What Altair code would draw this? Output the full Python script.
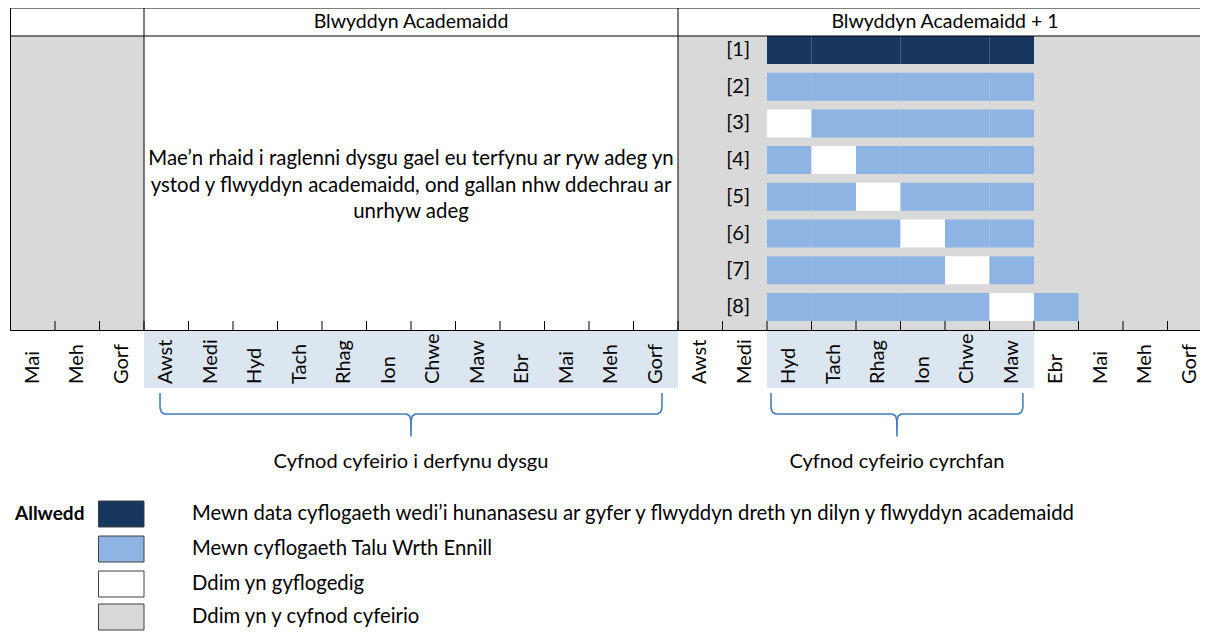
import altair as alt
import pandas as pd

# ---------------- data ----------------
months = ["Mai", "Meh", "Gorf", "Awst", "Medi", "Hyd", "Tach", "Rhag", "Ion", "Chwe", "Maw", "Ebr",
          "Mai", "Meh", "Gorf", "Awst", "Medi", "Hyd", "Tach", "Rhag", "Ion", "Chwe", "Maw", "Ebr",
          "Mai", "Meh", "Gorf"]
row_labels = ["[1]", "[2]", "[3]", "[4]", "[5]", "[6]", "[7]", "[8]"]
row_start_month = 17  # "Hyd" of academic year + 1
row_status = ["DDDDDD", "LLLLLL", "WLLLLL", "LWLLLL", "LLWLLL", "LLLWLL", "LLLLWL", "LLLLLWL"]
status_colors = {"D": "#17375E", "L": "#8EB4E3", "W": "#FFFFFF", "G": "#D9D9D9"}
legend_keys = ["D", "L", "W", "G"]
legend_labels = [
    "Mewn data cyflogaeth wedi’i hunanasesu ar gyfer y flwyddyn dreth yn dilyn y flwyddyn academaidd",
    "Mewn cyflogaeth Talu Wrth Ennill",
    "Ddim yn gyflogedig",
    "Ddim yn y cyfnod cyfeirio",
]
key_title = "Allwedd"
year_titles = ["Blwyddyn Academaidd", "Blwyddyn Academaidd + 1"]
year_spans = [(3, 15), (15, 27)]
grey_spans = [(0, 3), (15, 27)]
note_lines = ["Mae’n rhaid i raglenni dysgu gael eu terfynu ar ryw adeg yn",
              "ystod y flwyddyn academaidd, ond gallan nhw ddechrau ar",
              "unrhyw adeg"]
period_titles = ["Cyfnod cyfeirio i derfynu dysgu", "Cyfnod cyfeirio cyrchfan"]
period_spans = [(3, 15), (17, 23)]
brace_spans = [(3.36, 14.64), (17.09, 22.75)]

# ---------------- layout (page pixels) ----------------
PAGE = 8
X0, MW = 10.5, 44.5
W, H = 1192, 623
HEADER_TOP, HEADER_BOTTOM = 8, 36
AXIS_Y, TICK_TOP = 330.5, 321
BAND_BOTTOM, LABEL_Y = 388, 384
ROW_C0, ROW_PITCH, BAR_H = 50, 36.7, 28
BRACE_TOP, BRACE_MID, BRACE_TIP = 393, 414, 436
PERIOD_Y = 462
LEGEND_Y = [514, 549, 584, 617]
LEGEND_BOX_H = 26
FONT = "Lato"
FS = 20

xs = alt.Scale(domain=[(PAGE - X0) / MW, (PAGE + W - X0) / MW], nice=False, zero=False)
ys = alt.Scale(domain=[PAGE, PAGE + H], reverse=True, nice=False, zero=False)


def ex(f):
    return alt.X(f, type="quantitative", scale=xs, axis=None)


def ey(f):
    return alt.Y(f, type="quantitative", scale=ys, axis=None)


def rect_layer(df, **mk):
    return alt.Chart(df).mark_rect(**mk).encode(
        x=ex("x"), x2="x2", y=ey("y"), y2="y2",
        color=alt.Color("fill:N", scale=None))


# background regions
bg = []
for a, b in grey_spans:
    bg.append(dict(x=a, x2=b, y=HEADER_BOTTOM, y2=AXIS_Y, fill=status_colors["G"]))
for a, b in period_spans:
    bg.append(dict(x=a, x2=b, y=AXIS_Y, y2=BAND_BOTTOM, fill="#DCE6F1"))
bg_layer = rect_layer(pd.DataFrame(bg), clip=True)

# bars
cells = []
for i, st in enumerate(row_status):
    c = ROW_C0 + i * ROW_PITCH
    for j, s in enumerate(st):
        m = row_start_month + j
        cells.append(dict(x=m, x2=m + 1, y=c - BAR_H / 2, y2=c + BAR_H / 2, fill=status_colors[s]))
bar_layer = rect_layer(pd.DataFrame(cells))

# grid lines
lines = [
    dict(x=0, x2=27, y=HEADER_TOP, y2=HEADER_TOP),
    dict(x=0, x2=27, y=HEADER_BOTTOM, y2=HEADER_BOTTOM),
    dict(x=0, x2=27, y=AXIS_Y, y2=AXIS_Y),
]
for v in [0, 3, 15]:
    lines.append(dict(x=v, x2=v, y=HEADER_TOP, y2=AXIS_Y))
for k in range(len(months) + 1):
    lines.append(dict(x=k, x2=k, y=TICK_TOP, y2=AXIS_Y))
line_layer = alt.Chart(pd.DataFrame(lines)).mark_rule(color="#000000", strokeWidth=1, clip=True).encode(
    x=ex("x"), x2="x2", y=ey("y"), y2="y2")

# month labels
mdf = pd.DataFrame(dict(x=[k + 0.5 for k in range(len(months))], y=LABEL_Y, t=months))
month_layer = alt.Chart(mdf).mark_text(angle=270, align="left", baseline="middle",
                                       font=FONT, fontSize=FS, color="#000000").encode(
    x=ex("x"), y=ey("y"), text="t:N")

# row labels
rdf = pd.DataFrame(dict(x=row_start_month - 0.38,
                        y=[ROW_C0 + i * ROW_PITCH for i in range(len(row_labels))], t=row_labels))
row_layer = alt.Chart(rdf).mark_text(align="right", baseline="middle", font=FONT, fontSize=FS,
                                     color="#000000").encode(x=ex("x"), y=ey("y"), text="t:N")

# centred texts: year titles, note, period titles
ct = []
for t, (a, b) in zip(year_titles, year_spans):
    ct.append(dict(x=(a + b) / 2, y=22, t=t, s=FS - 0.5))
for i, t in enumerate(note_lines):
    ct.append(dict(x=9, y=159 + i * 26.5, t=t, s=FS + 0.4))
for t, (a, b) in zip(period_titles, brace_spans):
    ct.append(dict(x=(a + b) / 2, y=PERIOD_Y, t=t, s=FS))
center_layer = alt.Chart(pd.DataFrame(ct)).mark_text(align="center", baseline="middle", font=FONT,
                                                     color="#000000").encode(
    x=ex("x"), y=ey("y"), text="t:N", size=alt.Size("s:Q", scale=None))

# braces
bp = []
for bi, (lo, hi) in enumerate(brace_spans):
    mid = (lo + hi) / 2
    pts = [(lo, BRACE_TOP), (lo, BRACE_MID - 6), (lo + 0.03, BRACE_MID - 2), (lo + 0.1, BRACE_MID),
           (mid - 0.1, BRACE_MID), (mid - 0.03, BRACE_MID + 2), (mid - 0.005, BRACE_MID + 6),
           (mid, BRACE_TIP),
           (mid + 0.005, BRACE_MID + 6), (mid + 0.03, BRACE_MID + 2), (mid + 0.1, BRACE_MID),
           (hi - 0.1, BRACE_MID), (hi - 0.03, BRACE_MID - 2), (hi, BRACE_MID - 6), (hi, BRACE_TOP)]
    for k, (px, py) in enumerate(pts):
        bp.append(dict(b=bi, o=k, x=px, y=py))
brace_layer = alt.Chart(pd.DataFrame(bp)).mark_line(color="#4A7EBB", strokeWidth=1.6,
                                                    strokeJoin="round").encode(
    x=ex("x"), y=ey("y"), detail="b:N", order="o:Q")

# legend
lb = []
for k, yc in zip(legend_keys, LEGEND_Y):
    lb.append(dict(x=(98.5 - X0) / MW, x2=(144 - X0) / MW, y=yc - LEGEND_BOX_H / 2,
                   y2=yc + LEGEND_BOX_H / 2, fill=status_colors[k]))
legend_box_layer = rect_layer(pd.DataFrame(lb), stroke="#404040", strokeWidth=1)
ldf = pd.DataFrame(dict(x=(192 - X0) / MW, y=LEGEND_Y, t=legend_labels))
legend_text_layer = alt.Chart(ldf).mark_text(align="left", baseline="middle", font=FONT,
                                             fontSize=FS + 0.3, color="#000000").encode(
    x=ex("x"), y=ey("y"), text="t:N")
kdf = pd.DataFrame(dict(x=[(15 - X0) / MW], y=[LEGEND_Y[0]], t=[key_title]))
key_layer = alt.Chart(kdf).mark_text(align="left", baseline="middle", font=FONT, fontSize=FS - 1,
                                     fontWeight="bold", color="#000000").encode(
    x=ex("x"), y=ey("y"), text="t:N")

chart = alt.layer(
    bg_layer, bar_layer, line_layer, month_layer, row_layer, center_layer,
    brace_layer, legend_box_layer, legend_text_layer, key_layer
).properties(
    width=W, height=H, autosize=alt.AutoSizeParams(type="none"), padding=0,
    background="#FFFFFF"
).configure_view(stroke=None)

chart.save("out.html", embed_options={"renderer": "svg", "actions": False})
